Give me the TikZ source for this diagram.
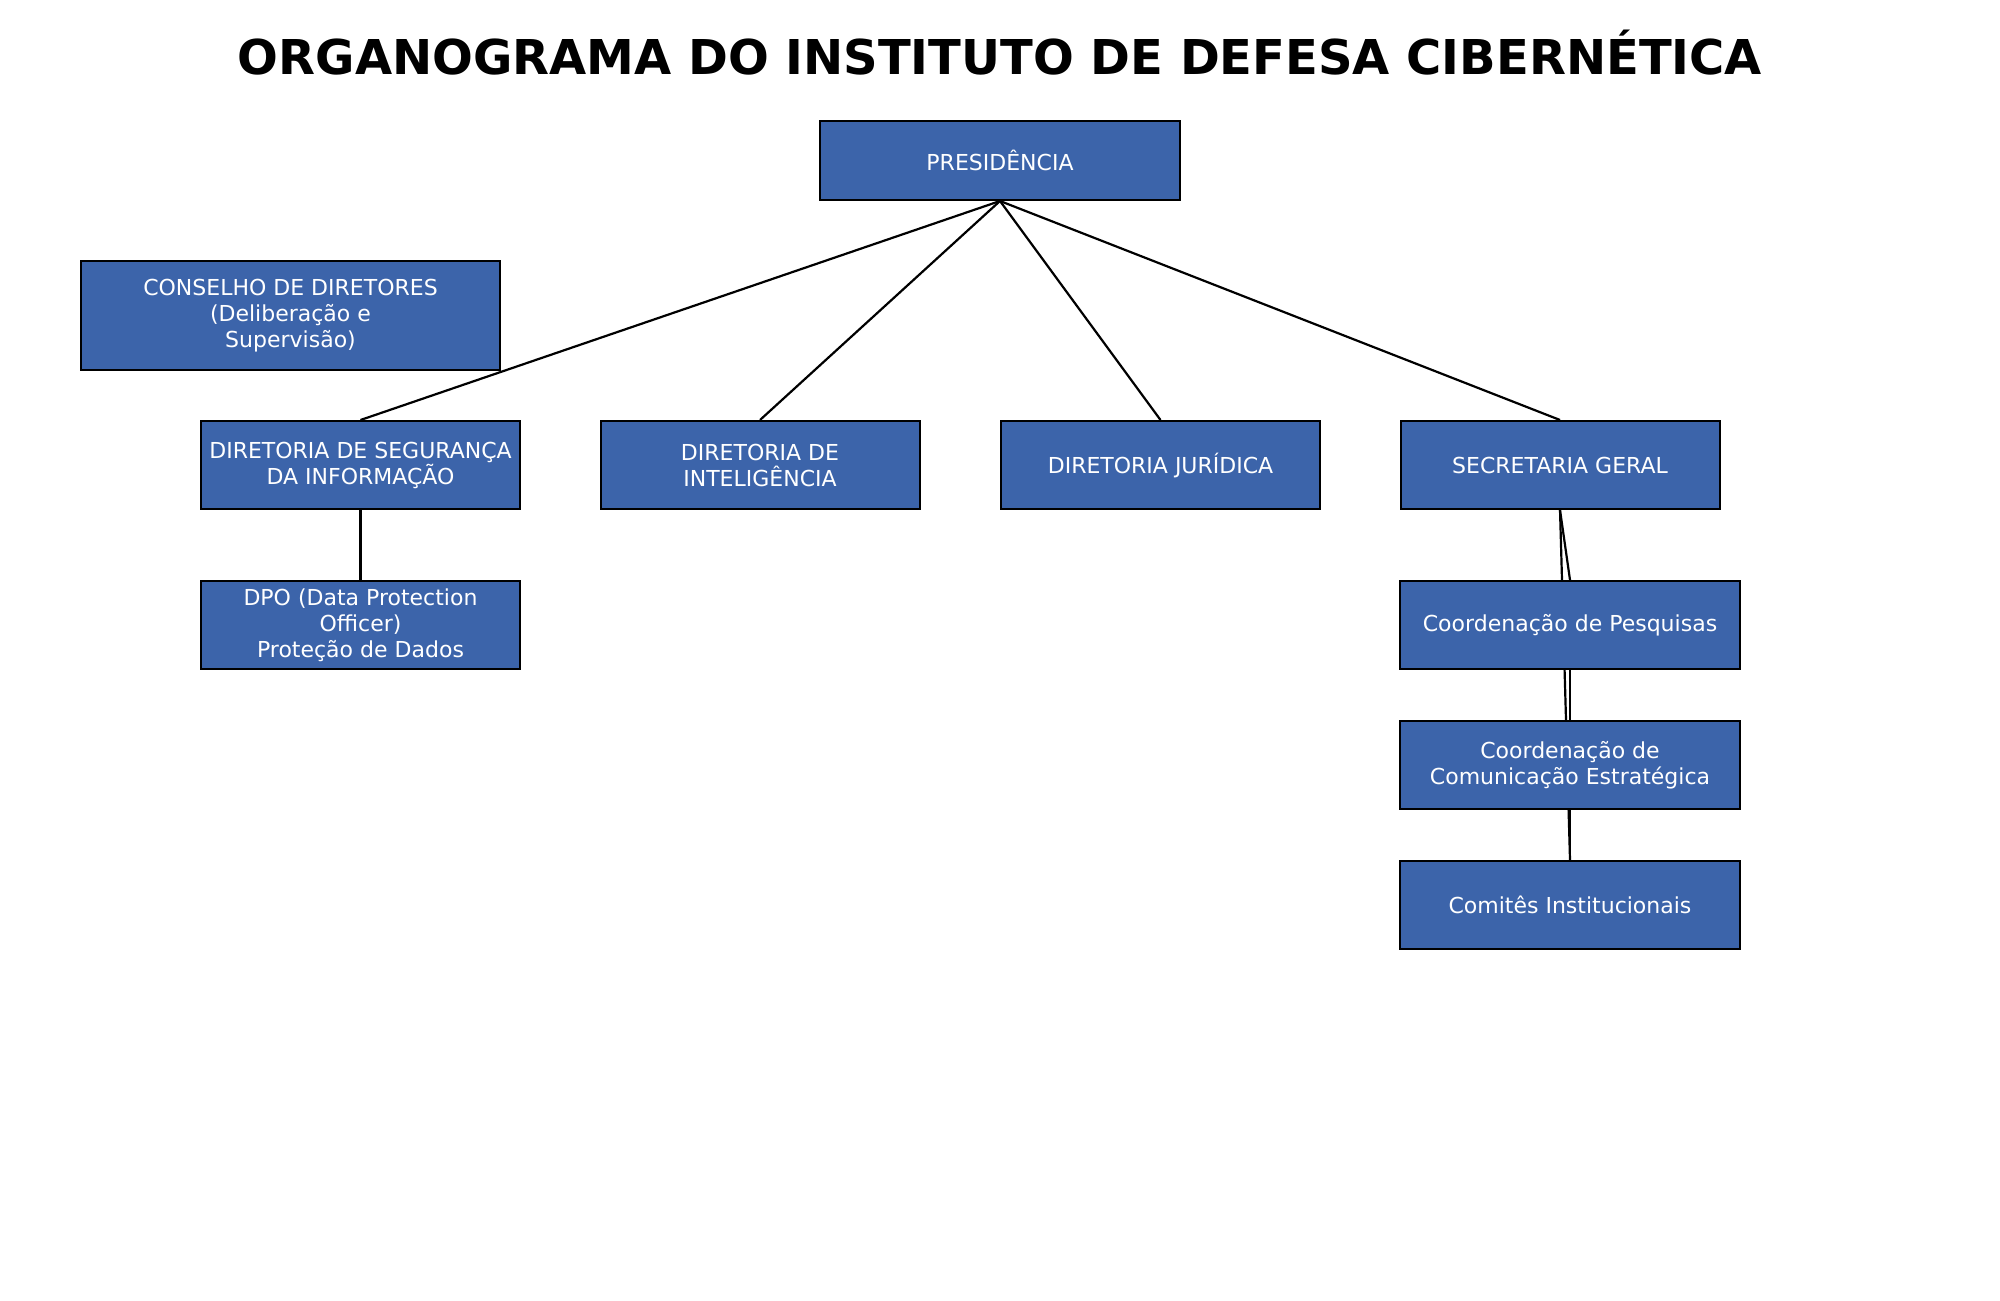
\documentclass[tikz,border=0pt]{standalone}
\usepackage{fontspec}
\setmainfont{DejaVu Sans}
\pgfdeclarelayer{background}
\pgfsetlayers{background,main}
\definecolor{boxblue}{HTML}{3C64AA}
\tikzset{
  orgbox/.style={draw=black, line width=1pt, fill=boxblue, text=white, align=center,
    inner sep=0pt, minimum height=44pt, minimum width=159.5pt,
    font=\fontsize{11}{13}\selectfont},
  widebox/.style={orgbox, minimum width=169.75pt},
  link/.style={draw=black, line width=1.1pt}
}
\begin{document}
\begin{tikzpicture}[x=0.5pt, y=-0.5pt]
\useasboundingbox (0,0) rectangle (2000,1300);
\node[anchor=base, font=\fontsize{24}{28}\selectfont\bfseries] (title) at (1000,75) {ORGANOGRAMA DO INSTITUTO DE DEFESA CIBERNÉTICA};

\node[orgbox, minimum width=180pt, minimum height=39.5pt] (pres) at (1000,160.5) {PRESIDÊNCIA};
\node[orgbox, minimum width=209.5pt, minimum height=54.5pt] (cons) at (290.5,315.5) {CONSELHO DE DIRETORES\\(Deliberação e\\Supervisão)};

\node[orgbox] (dsi) at (360.5,465) {DIRETORIA DE SEGURANÇA\\DA INFORMAÇÃO};
\node[orgbox] (int) at (760,465) {DIRETORIA DE\\INTELIGÊNCIA};
\node[orgbox] (jur) at (1160.5,465) {DIRETORIA JURÍDICA};
\node[orgbox] (sec) at (1560,465) {SECRETARIA GERAL};

\node[orgbox] (dpo) at (360.5,625) {DPO (Data Protection\\Officer)\\Proteção de Dados};
\node[widebox] (pesq) at (1570,625) {Coordenação de Pesquisas};
\node[widebox] (com) at (1570,765) {Coordenação de\\Comunicação Estratégica};
\node[widebox] (comi) at (1570,905) {Comitês Institucionais};

\begin{pgfonlayer}{background}
\draw[link] (pres.south) -- (dsi.north);
\draw[link] (pres.south) -- (int.north);
\draw[link] (pres.south) -- (jur.north);
\draw[link] (pres.south) -- (sec.north);
\draw[link] (dsi.south) -- (dpo.north);
\draw[link] (sec.south) -- (pesq.north);
\draw[link] (sec.south) -- (comi.north);
\draw[link] (pesq.south) -- (com.north);
\draw[link] (com.south) -- (comi.north);
\end{pgfonlayer}
\end{tikzpicture}
\end{document}
